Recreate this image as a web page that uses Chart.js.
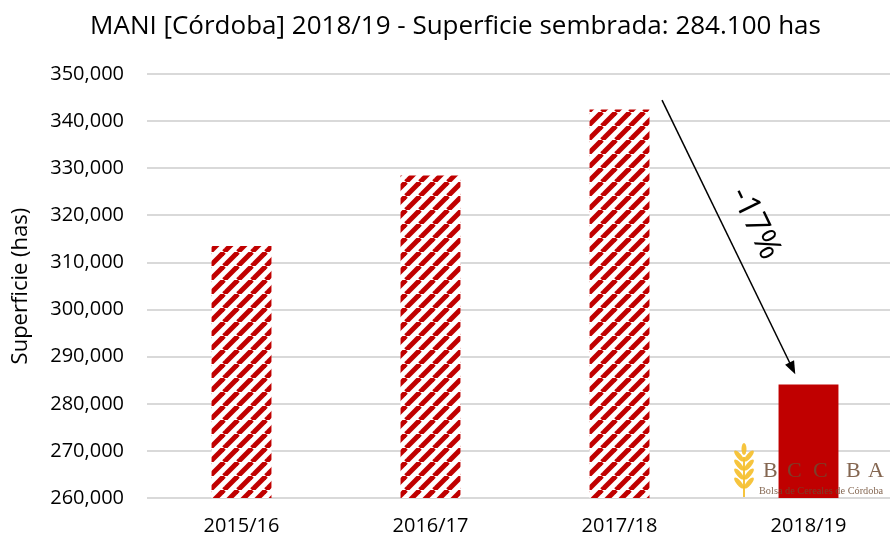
<!DOCTYPE html>
<html lang="es">
<head>
  <meta charset="UTF-8" />
  <title>MANI Córdoba</title>
  <script src="https://cdn.jsdelivr.net/npm/chart.js"></script>
  <style>
    html, body { margin: 0; padding: 0; background: #fff; }
    #wrap { width: 890px; height: 540px; overflow: hidden; }
  </style>
</head>
<body>
  <!-- the original chart is a bit wider than the picture, so the right edge gets cropped -->
  <div id="wrap"><canvas id="chart" width="905" height="540"></canvas></div>

  <script>
    const campaigns = ['2015/16', '2016/17', '2017/18', '2018/19'];
    const superficie = [313500, 328500, 342500, 284100];
    const changeLabel = '-17%';
    const RED = '#c00000';

    // diagonal stripes like the excel pattern fill
    function stripePattern() {
      const size = 14;
      const c = document.createElement('canvas');
      c.width = size; c.height = size;
      const g = c.getContext('2d');
      g.fillStyle = '#fff';
      g.fillRect(0, 0, size, size);
      g.strokeStyle = RED;
      g.lineWidth = 5;
      for (let k = -1; k <= 1; k++) {
        g.beginPath();
        g.moveTo(k * size, size);
        g.lineTo(k * size + size, 0);
        g.stroke();
      }
      return g.createPattern(c, 'repeat');
    }

    const hatch = stripePattern();
    const fills = superficie.map((v, i) => i < superficie.length - 1 ? hatch : RED);

    const arrowPlugin = {
      id: 'arrow',
      afterDatasetsDraw(chart) {
        const { ctx, scales: { x, y } } = chart;
        const step = x.getPixelForValue(1) - x.getPixelForValue(0);
        const x0 = x.getPixelForValue(2) + step * 0.225;
        const y0 = y.getPixelForValue(344500);
        const x1 = x.getPixelForValue(3) - step * 0.07;
        const y1 = y.getPixelForValue(superficie[3] + 2200);
        const ang = Math.atan2(y1 - y0, x1 - x0);
        ctx.save();
        ctx.strokeStyle = '#000';
        ctx.fillStyle = '#000';
        ctx.lineWidth = 1.5;
        ctx.beginPath();
        ctx.moveTo(x0, y0);
        ctx.lineTo(x1 - 8 * Math.cos(ang), y1 - 8 * Math.sin(ang));
        ctx.stroke();
        ctx.beginPath();
        ctx.moveTo(x1, y1);
        ctx.lineTo(x1 - 13 * Math.cos(ang) + 5 * Math.sin(ang), y1 - 13 * Math.sin(ang) - 5 * Math.cos(ang));
        ctx.lineTo(x1 - 13 * Math.cos(ang) - 5 * Math.sin(ang), y1 - 13 * Math.sin(ang) + 5 * Math.cos(ang));
        ctx.closePath();
        ctx.fill();

        // label along the arrow
        const t = 0.45;
        const mx = x0 + (x1 - x0) * t + 33;
        const my = y0 + (y1 - y0) * t;
        ctx.translate(mx, my);
        ctx.rotate(ang);
        ctx.font = '33px "Open Sans", sans-serif';
        ctx.textAlign = 'center';
        ctx.textBaseline = 'middle';
        ctx.fillText(changeLabel, 0, 0);
        ctx.restore();
      }
    };

    const logoPlugin = {
      id: 'logo',
      afterDatasetsDraw(chart) {
        const { ctx } = chart;
        const lx = 733, ly = 447;
        ctx.save();
        // wheat ear
        ctx.fillStyle = 'rgba(245,190,40,0.9)';
        ctx.beginPath();
        ctx.ellipse(lx + 11, ly + 2, 2.5, 6, 0, 0, Math.PI * 2);
        ctx.fill();
        for (let i = 0; i < 4; i++) {
          const yy = ly + 9 + i * 9;
          ctx.beginPath();
          ctx.ellipse(lx + 6, yy, 2.5, 7, -0.7, 0, Math.PI * 2);
          ctx.fill();
          ctx.beginPath();
          ctx.ellipse(lx + 16, yy, 2.5, 7, 0.7, 0, Math.PI * 2);
          ctx.fill();
        }
        ctx.fillRect(lx + 10, ly + 10, 2, 40);
        // letters
        ctx.fillStyle = 'rgba(110,75,50,0.85)';
        ctx.font = '22px "Liberation Serif", serif';
        ctx.textBaseline = 'alphabetic';
        const letters = ['B', 'C', 'C', 'B', 'A'];
        const offs = [30, 54, 80, 113, 135];
        letters.forEach((l, i) => ctx.fillText(l, lx + offs[i], ly + 30));
        ctx.font = '10.3px "Liberation Serif", serif';
        ctx.fillText('Bolsa de Cereales de Córdoba', lx + 26, ly + 47);
        ctx.restore();
      }
    };

    new Chart(document.getElementById('chart'), {
      type: 'bar',
      data: {
        labels: campaigns,
        datasets: [{
          data: superficie,
          backgroundColor: fills,
          borderWidth: 0,
          barPercentage: 0.634,
          categoryPercentage: 0.5
        }]
      },
      options: {
        responsive: false,
        animation: false,
        layout: { padding: { top: 0, right: 2, left: 8, bottom: 0 } },
        plugins: {
          legend: { display: false },
          tooltip: { enabled: false },
          title: {
            display: true,
            text: 'MANI [Córdoba] 2018/19 - Superficie sembrada: 284.100 has',
            color: '#000',
            font: { family: 'Open Sans', size: 26, weight: 'normal' },
            padding: { top: 11, bottom: 32 }
          }
        },
        scales: {
          x: {
            grid: { display: false, drawTicks: false },
            border: { display: false },
            ticks: { color: '#000', font: { family: 'Open Sans', size: 20 }, padding: 16 },
            afterFit: s => { s.height = 42; }
          },
          y: {
            min: 260000,
            max: 350000,
            ticks: {
              stepSize: 10000,
              color: '#000',
              font: { family: 'Open Sans', size: 20 },
              padding: 23,
              callback: v => v.toLocaleString('en-US')
            },
            grid: { color: '#d9d9d9', lineWidth: 2, drawTicks: false },
            border: { display: false },
            title: {
              display: true,
              text: 'Superficie (has)',
              color: '#000',
              font: { family: 'Open Sans', size: 22 },
              padding: { top: 0, bottom: 0 }
            },
            afterFit: s => { s.width = 139; }
          }
        }
      },
      plugins: [arrowPlugin, logoPlugin]
    });
  </script>
</body>
</html>
